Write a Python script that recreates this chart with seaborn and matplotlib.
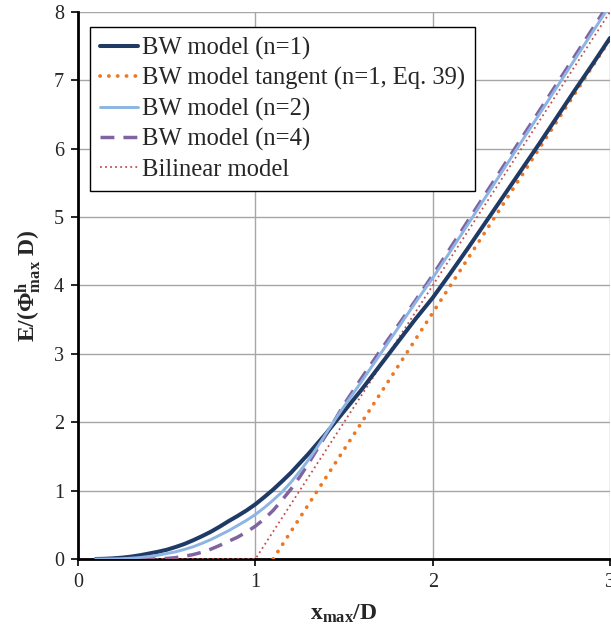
import matplotlib
matplotlib.use("Agg")
import matplotlib.pyplot as plt
import seaborn as sns

# ---- data ----
x_bw = [0.10, 0.15, 0.20, 0.25, 0.30, 0.35, 0.40, 0.45, 0.50, 0.55,
        0.60, 0.65, 0.70, 0.75, 0.80, 0.85, 0.90, 0.95, 1.00, 1.05,
        1.10, 1.15, 1.20, 1.25, 1.30, 1.35, 1.40, 1.45, 1.50, 1.60,
        1.70, 1.80, 1.90, 2.00, 2.10, 2.20, 2.30, 2.40, 2.50, 2.60,
        2.70, 2.80, 2.90, 3.00]
bw_n1 = [0.000, 0.003, 0.010, 0.020, 0.035, 0.055, 0.080, 0.105, 0.135, 0.175,
         0.220, 0.275, 0.335, 0.400, 0.475, 0.555, 0.630, 0.710, 0.800, 0.905,
         1.015, 1.135, 1.260, 1.400, 1.540, 1.690, 1.840, 2.000, 2.160, 2.480,
         2.820, 3.160, 3.500, 3.820, 4.180, 4.550, 4.930, 5.310, 5.690, 6.070,
         6.460, 6.850, 7.230, 7.620]
bw_n2 = [0.000, 0.000, 0.002, 0.005, 0.012, 0.022, 0.037, 0.055, 0.080, 0.105,
         0.140, 0.180, 0.230, 0.285, 0.350, 0.415, 0.490, 0.565, 0.650, 0.750,
         0.860, 0.980, 1.120, 1.280, 1.450, 1.640, 1.840, 2.040, 2.230, 2.600,
         2.980, 3.360, 3.740, 4.110, 4.500, 4.900, 5.300, 5.700, 6.100, 6.500,
         6.900, 7.300, 7.700, 8.100]
bw_n4 = [0.000, 0.000, 0.000, 0.000, 0.000, 0.000, 0.000, 0.002, 0.008, 0.020,
         0.040, 0.065, 0.100, 0.145, 0.200, 0.260, 0.320, 0.395, 0.480, 0.585,
         0.710, 0.860, 1.020, 1.200, 1.400, 1.610, 1.820, 2.040, 2.260, 2.650,
         3.030, 3.400, 3.770, 4.150, 4.550, 4.950, 5.350, 5.750, 6.150, 6.550,
         6.950, 7.350, 7.750, 8.150]
x_tan = [1.1, 3.0]
tangent_n1 = [0.0, 7.6]
x_bil = [0.1, 1.0, 3.0]
bilinear = [0.0, 0.0, 8.0]

labels = ["BW model (n=1)", "BW model tangent (n=1, Eq. 39)",
          "BW model (n=2)", "BW model (n=4)", "Bilinear model"]
x_ticks = [0, 1, 2, 3]
y_ticks = [0, 1, 2, 3, 4, 5, 6, 7, 8]

# ---- style ----
sns.set_style("white")
plt.rcParams["font.family"] = ["Liberation Serif", "DejaVu Serif"]
plt.rcParams["mathtext.fontset"] = "custom"
plt.rcParams["mathtext.rm"] = "Liberation Serif"
plt.rcParams["mathtext.it"] = "Liberation Serif:italic"
plt.rcParams["mathtext.bf"] = "Liberation Serif:bold"

fig = plt.figure(figsize=(6.11, 6.31), dpi=100)
ax = fig.add_axes([0.1277, 0.1141, 0.8707, 0.8669])

sns.lineplot(x=x_bw, y=bw_n1, ax=ax, color="#1F3A64", lw=2.9,
             label=labels[0], zorder=4)
sns.lineplot(x=x_tan, y=tangent_n1, ax=ax, color="#EE7722", lw=2.7,
             linestyle=(0, (0.05, 2.3)), dash_capstyle="round",
             label=labels[1], zorder=3)
sns.lineplot(x=x_bw, y=bw_n2, ax=ax, color="#8DB4E2", lw=2.1,
             label=labels[2], zorder=4)
sns.lineplot(x=x_bw, y=bw_n4, ax=ax, color="#8064A2", lw=2.5,
             linestyle=(0, (4.0, 2.6)), label=labels[3], zorder=3)
sns.lineplot(x=x_bil, y=bilinear, ax=ax, color="#C0504D", lw=1.3,
             linestyle=(0, (1.0, 1.8)), label=labels[4], zorder=3)

ax.set_xlim(0, 3)
ax.set_ylim(0, 8)
ax.set_xticks(x_ticks)
ax.set_yticks(y_ticks)
ax.set_axisbelow(True)
ax.grid(True, color="#A6A6A6", lw=1.0)
for s in ["top", "right"]:
    ax.spines[s].set_visible(False)
for s in ["left", "bottom"]:
    ax.spines[s].set_color("black")
    ax.spines[s].set_linewidth(2.0)
    ax.spines[s].set_zorder(2.5)
ax.tick_params(direction="out", length=5, width=1.2, labelsize=14.5,
               pad=5, color="black", left=True, bottom=True)

ax.set_xlabel(r"$\mathbf{x_{max}/D}$", fontsize=17, labelpad=8)
ax.set_ylabel(r"$\mathbf{E/(\Phi^{h}_{max}\ D)}$", fontsize=17, labelpad=8)

leg = ax.legend(loc="upper left", bbox_to_anchor=(0.0226, 0.9726),
                borderaxespad=0, fontsize=17.75, frameon=True, fancybox=False,
                framealpha=1, edgecolor="black", handlelength=1.55,
                handletextpad=0.15, labelspacing=0.3, borderpad=0.4)
leg.get_frame().set_linewidth(1.0)

fig.savefig("out.png", dpi=100)
